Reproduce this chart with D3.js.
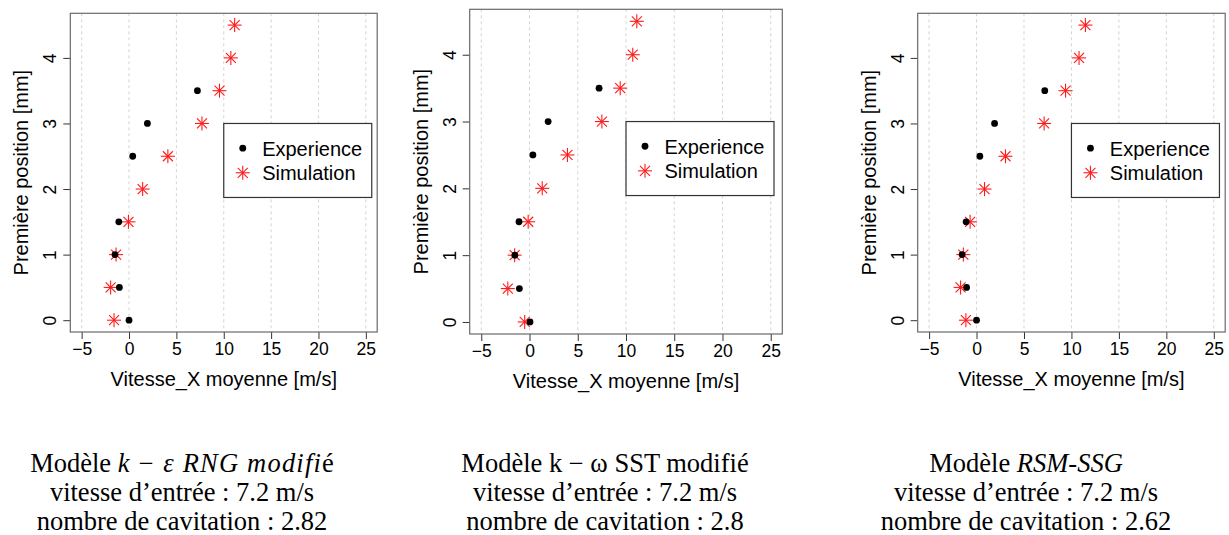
<!DOCTYPE html>
<html>
<head>
<meta charset="utf-8">
<script src="https://cdn.jsdelivr.net/npm/d3@7"></script>
<style>
  html, body { margin: 0; padding: 0; background: #fff; }
  svg { display: block; }
</style>
</head>
<body>
<svg id="chart" width="1229" height="535"></svg>
<script>
// ---- data ----
const xTicks = [-5, 0, 5, 10, 15, 20, 25];
const yTicks = [0, 1, 2, 3, 4];
const expY = [0, 0.5, 1, 1.5, 2.5, 3, 3.5];
const simY = [0, 0.5, 1, 1.5, 2, 2.5, 3, 3.5, 4, 4.5];
const exp1 = [0.0, -1.02, -1.48, -1.08, 0.39, 1.94, 7.22];
const sim1 = [-1.58, -1.94, -1.37, -0.06, 1.44, 4.1, 7.7, 9.55, 10.75, 11.15];
const exp2 = [0.05, -1.05, -1.52, -1.09, 0.35, 1.93, 7.21];
const sim2 = [-0.5, -2.25, -1.54, -0.14, 1.32, 3.93, 7.5, 9.4, 10.7, 11.12];
const exp3 = [0.0, -1.05, -1.52, -1.1, 0.35, 1.9, 7.19];
const sim3 = [-1.12, -1.68, -1.39, -0.68, 0.84, 3.05, 7.12, 9.38, 10.8, 11.47];
const legendLabels = ["Experience", "Simulation"];
const xTitle = "Vitesse_X moyenne [m/s]";
const yTitle = "Première position [mm]";
const xDomain = [-6.2, 26.2];
const yDomain = [-0.18, 4.68];
const legendAnchor = [10, 3];

const panels = [
  { exp: exp1, sim: sim1, rect: { l: 70.3, r: 377.2, t: 13.3, b: 332 }, cx: 182,
    caption: [
      [["Modèle ", false, 0], ["k", true, 1], [" − ", false, 1.5], ["ε RNG modifi", true, 1.2], ["é", false, 0]],
      [["vitesse d’entrée : 7.2 m/s", false, 0]],
      [["nombre de cavitation : 2.82", false, 0]]
    ] },
  { exp: exp2, sim: sim2, rect: { l: 469.7, r: 782.3, t: 9.3, b: 334 }, cx: 605,
    caption: [
      [["Modèle k − ω SST modifié", false, 0]],
      [["vitesse d’entrée : 7.2 m/s", false, 0]],
      [["nombre de cavitation : 2.8", false, 0]]
    ] },
  { exp: exp3, sim: sim3, rect: { l: 917.7, r: 1225.2, t: 13.3, b: 332 }, cx: 1026,
    caption: [
      [["Modèle ", false, 0], ["RSM-SSG", true, 0]],
      [["vitesse d’entrée : 7.2 m/s", false, 0]],
      [["nombre de cavitation : 2.62", false, 0]]
    ] }
];

const svg = d3.select("#chart");
const sans = "'Liberation Sans', Arial, sans-serif";
const serif = "'Liberation Serif', 'Times New Roman', serif";

function star(g, x, y, color) {
  const a = 7, d = 5;
  const s = g.append("g").attr("transform", `translate(${x},${y})`)
    .attr("stroke", color).attr("stroke-width", 1.1).attr("fill", "none");
  s.append("line").attr("x1", -a).attr("x2", a).attr("y1", 0).attr("y2", 0);
  s.append("line").attr("x1", 0).attr("x2", 0).attr("y1", -a).attr("y2", a);
  s.append("line").attr("x1", -d).attr("x2", d).attr("y1", -d).attr("y2", d);
  s.append("line").attr("x1", -d).attr("x2", d).attr("y1", d).attr("y2", -d);
}

panels.forEach(p => {
  const R = p.rect;
  const x = d3.scaleLinear().domain(xDomain).range([R.l, R.r]);
  const y = d3.scaleLinear().domain(yDomain).range([R.b, R.t]);
  const g = svg.append("g");

  // vertical dashed grid
  g.append("g").selectAll("line").data(xTicks).join("line")
    .attr("x1", d => x(d)).attr("x2", d => x(d))
    .attr("y1", R.t).attr("y2", R.b)
    .attr("stroke", "#d4d4d4").attr("stroke-width", 1)
    .attr("stroke-dasharray", "3,3");

  // x axis
  const xa = g.append("g").attr("transform", `translate(0,${R.b})`)
    .call(d3.axisBottom(x).tickValues(xTicks).tickSize(7).tickSizeOuter(0)
      .tickFormat(d => d < 0 ? "−" + Math.abs(d) : String(d)));
  xa.select(".domain").remove();
  xa.selectAll(".tick line").attr("stroke", "#333");
  xa.selectAll(".tick text").attr("font-family", sans).attr("font-size", 17.5)
    .attr("fill", "#000").attr("dy", null).attr("y", 23).attr("dominant-baseline", "auto");

  // y axis
  const ya = g.append("g").attr("transform", `translate(${R.l},0)`)
    .call(d3.axisLeft(y).tickValues(yTicks).tickSize(7).tickSizeOuter(0).tickFormat(d3.format("d")));
  ya.select(".domain").remove();
  ya.selectAll(".tick line").attr("stroke", "#333");
  ya.selectAll(".tick text").attr("font-family", sans).attr("font-size", 17.5)
    .attr("fill", "#000").attr("x", null).attr("dy", null)
    .attr("text-anchor", "middle")
    .attr("transform", "translate(-14,0) rotate(-90)");

  // box
  g.append("rect").attr("x", R.l).attr("y", R.t)
    .attr("width", R.r - R.l).attr("height", R.b - R.t)
    .attr("fill", "none").attr("stroke", "#6a6a6a").attr("stroke-width", 1.2);

  // titles
  g.append("text").attr("x", (R.l + R.r) / 2).attr("y", R.b + 54)
    .attr("text-anchor", "middle").attr("font-family", sans).attr("font-size", 20)
    .attr("fill", "#000").text(xTitle);
  const ycy = (R.t + R.b) / 2;
  g.append("text").attr("transform", `translate(${R.l - 42},${ycy}) rotate(-90)`)
    .attr("text-anchor", "middle").attr("font-family", sans).attr("font-size", 20)
    .attr("fill", "#000").text(yTitle);

  // simulation stars
  const sg = g.append("g");
  p.sim.forEach((v, i) => star(sg, x(v), y(simY[i]), "#ff1a1a"));
  // experience points
  g.append("g").selectAll("circle").data(p.exp).join("circle")
    .attr("cx", d => x(d)).attr("cy", (d, i) => y(expY[i]))
    .attr("r", 3.4).attr("fill", "#000");

  // legend
  const lx = x(legendAnchor[0]), ly = y(legendAnchor[1]);
  const lg = g.append("g").attr("transform", `translate(${lx},${ly})`);
  lg.append("rect").attr("width", 148).attr("height", 74)
    .attr("fill", "#fff").attr("stroke", "#333").attr("stroke-width", 1.2);
  lg.append("circle").attr("cx", 19).attr("cy", 24.7).attr("r", 3.4).attr("fill", "#000");
  star(lg, 19, 49.3, "#ff1a1a");
  legendLabels.forEach((t, i) => {
    lg.append("text").attr("x", 38.4).attr("y", 24.7 + i * 24.6 + 7.4)
      .attr("font-family", sans).attr("font-size", 20).attr("fill", "#000").text(t);
  });

  // caption
  p.caption.forEach((line, li) => {
    const t = svg.append("text").attr("x", p.cx).attr("y", 472 + li * 29)
      .attr("text-anchor", "middle").attr("font-family", serif)
      .attr("font-size", 26.5).attr("fill", "#000");
    line.forEach(([s, it, ls]) => {
      t.append("tspan").attr("font-style", it ? "italic" : "normal")
        .attr("letter-spacing", ls ? ls : null).text(s);
    });
  });
});
</script>
</body>
</html>
